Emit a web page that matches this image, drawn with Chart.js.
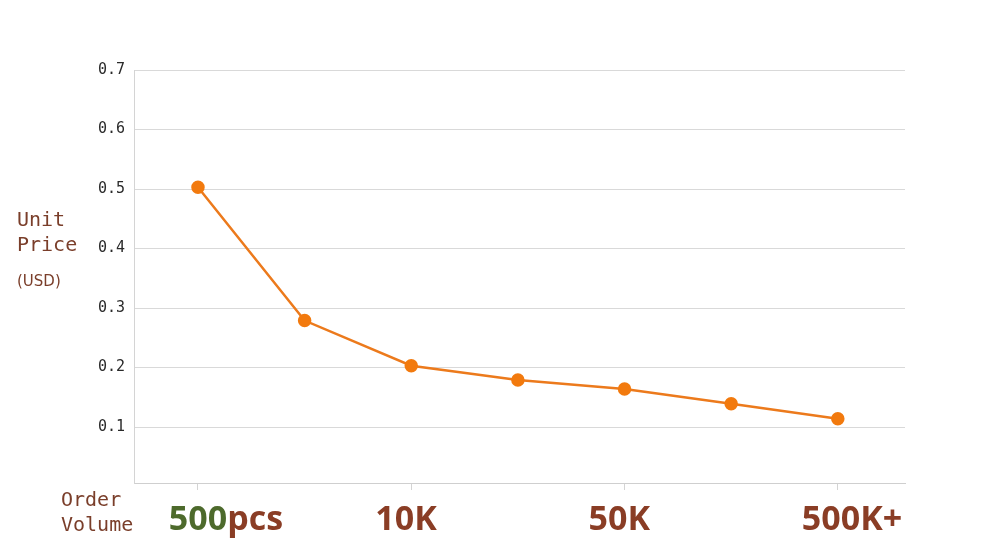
<!DOCTYPE html>
<html>
<head>
<meta charset="utf-8">
<script src="https://cdn.jsdelivr.net/npm/chart.js@4.4.1/dist/chart.umd.min.js"></script>
<style>
  html, body { margin: 0; padding: 0; background: #ffffff; }
  #wrap { width: 1000px; height: 560px; position: relative; }
</style>
</head>
<body>
<div id="wrap"><canvas id="chart"></canvas></div>
<script>
// Price per unit for each order volume tier (7 tiers, 4 labelled)
const tierIndex = [0, 1, 2, 3, 4, 5, 6];
const unitPrices = [0.503, 0.279, 0.203, 0.179, 0.164, 0.139, 0.114];
const yTicks = [0.1, 0.2, 0.3, 0.4, 0.5, 0.6, 0.7];
const xTickPositions = [0, 2, 4, 6];
const xTickLabels = ['500pcs', '10K', '50K', '500K+'];

const brown = '#8a3d25';
const green = '#4d6a2c';
const orange = '#ec7a1c';

// Draws the axis titles and the bold volume labels (500 in green, rest brown)
const labelsPlugin = {
    id: 'labels',
    afterDraw(chart) {
        const ctx = chart.ctx;
        const xs = chart.scales.x;
        ctx.save();
        ctx.fillStyle = '#7a3e2a';
        ctx.textBaseline = 'alphabetic';
        ctx.textAlign = 'left';
        ctx.font = '20px "DejaVu Sans Mono"';
        ctx.fillText('Unit', 17, 226);
        ctx.fillText('Price', 17, 251);
        ctx.fillText('Order', 61, 506);
        ctx.fillText('Volume', 61, 531);
        ctx.font = '15px "DejaVu Sans"';
        ctx.fillText('(USD)', 17, 286);

        ctx.font = 'bold 34px "Open Sans"';
        xTickPositions.forEach((pos, i) => {
            const px = xs.getPixelForValue(pos);
            const label = xTickLabels[i];
            if (label === '500pcs') {
                const w = ctx.measureText('500').width;
                ctx.fillStyle = green;
                ctx.fillText('500', px - w / 2, 530);
                ctx.fillStyle = brown;
                ctx.fillText('pcs', px + w / 2, 530);
            } else {
                ctx.fillStyle = brown;
                ctx.fillText(label, px - 36, 530);
            }
        });
        ctx.restore();
    }
};

new Chart(document.getElementById('chart'), {
    type: 'line',
    data: {
        datasets: [{
            data: tierIndex.map((x, i) => ({ x: x, y: unitPrices[i] })),
            borderColor: orange,
            borderWidth: 2.5,
            backgroundColor: '#f27a0e',
            pointBackgroundColor: '#f27a0e',
            pointBorderColor: '#f27a0e',
            pointRadius: 5.5,
            pointHoverRadius: 5.5,
            tension: 0
        }]
    },
    options: {
        responsive: true,
        maintainAspectRatio: false,
        animation: false,
        layout: { padding: { left: 0, right: 95, top: 70, bottom: 0 } },
        plugins: { legend: { display: false }, tooltip: { enabled: false } },
        scales: {
            x: {
                type: 'linear',
                min: -0.6,
                max: 6.63,
                afterBuildTicks(scale) {
                    scale.ticks = xTickPositions.map(v => ({ value: v }));
                },
                afterFit(scale) { scale.height = 77; },
                ticks: { display: false },
                grid: {
                    drawOnChartArea: false,
                    drawTicks: true,
                    tickLength: 7,
                    color: '#d4d4d4'
                },
                border: { color: '#cfcfcf', width: 1 }
            },
            y: {
                min: 0.006,
                max: 0.7,
                afterBuildTicks(scale) {
                    scale.ticks = yTicks.map(v => ({ value: v }));
                },
                afterFit(scale) { scale.width = 134; },
                ticks: {
                    padding: 9,
                    color: '#2a2a2a',
                    font: { family: '"DejaVu Sans Mono"', size: 15 },
                    callback: v => v.toFixed(1)
                },
                grid: { color: '#d9d9d9', drawTicks: false },
                border: { color: '#d4d4d4', width: 1 }
            }
        }
    },
    plugins: [labelsPlugin]
});
</script>
</body>
</html>
